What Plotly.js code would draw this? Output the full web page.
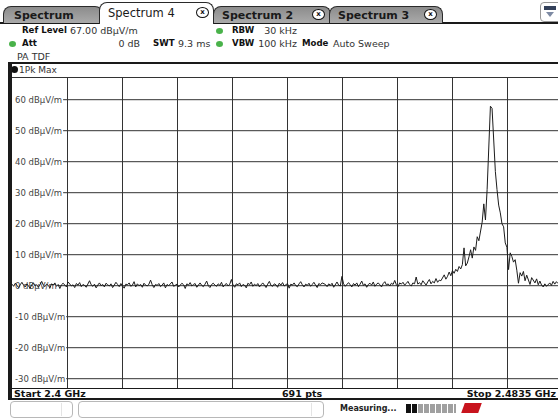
<!DOCTYPE html>
<html><head><meta charset="utf-8">
<script src="https://cdn.plot.ly/plotly-3.0.1.min.js"></script>
<style>
html,body{margin:0;padding:0;background:#fff;overflow:hidden;}
#wrap{position:relative;width:558px;height:419px;overflow:hidden;font-family:'DejaVu Sans',sans-serif;color:#222;background:#fff;}
.a{position:absolute;white-space:nowrap;}
.tab{position:absolute;top:6px;height:17px;border:1.5px solid #2a2a2a;border-bottom:none;border-radius:8px 8px 0 0;background:linear-gradient(#8c8c8c,#aaaaaa);font-weight:bold;font-size:11px;line-height:17px;color:#1a1a1a;box-sizing:border-box;}
.tab.act{top:2px;height:22px;background:#fff;font-weight:normal;font-size:11.5px;line-height:20px;z-index:3;}
.xi{position:absolute;width:11px;height:9px;border:1.3px solid #111;border-radius:50%;background:#fff;font-size:7px;font-weight:bold;line-height:9px;text-align:center;color:#111;}
.t{font-size:9.5px;line-height:11px;color:#333;}
.b{font-weight:bold;color:#111;font-size:8.6px;}
.bb{font-weight:bold;color:#111;font-size:9.5px;}
.gd{position:absolute;width:7px;height:6px;border-radius:50%;background:#49b24a;}
.ln{position:absolute;background:#1a1a1a;}
#plot{position:absolute;left:12px;top:78px;width:546px;height:310px;}
.sb{position:absolute;top:401px;height:17px;border:1px solid #b8b8b8;border-radius:4px;box-sizing:border-box;background:#fff;}
</style>
</head><body>
<div id="wrap">
  <!-- tab bar -->
  <div class="ln" style="left:0;top:22px;width:558px;height:1.5px;"></div>
  <div class="tab" style="left:3px;width:100px;"><span style="position:absolute;left:10px;">Spectrum</span></div>
  <div class="tab act" style="left:99px;width:115px;"><span style="position:absolute;left:8px;">Spectrum 4</span><span class="xi" style="left:96px;top:4px;">x</span></div>
  <div class="tab" style="left:213px;width:118px;"><span style="position:absolute;left:8px;">Spectrum 2</span><span class="xi" style="left:98px;top:2px;">x</span></div>
  <div class="tab" style="left:329px;width:114px;"><span style="position:absolute;left:8px;">Spectrum 3</span><span class="xi" style="left:94px;top:2px;">x</span></div>
  <div class="a" style="left:540px;top:2px;width:20px;height:18px;border:1px solid #999;border-radius:4px;background:#fff;">
    <div class="a" style="left:3px;top:3px;width:12px;height:4px;background:#33405a;"></div>
    <div class="a" style="left:5px;top:9px;width:0;height:0;border-left:4px solid transparent;border-right:4px solid transparent;border-top:5px solid #7d8aa3;"></div>
  </div>

  <!-- info rows -->
  <span class="a t b" style="left:22px;top:25px;">Ref Level</span>
  <span class="a t" style="left:70px;top:25px;">67.00 dBμV/m</span>
  <span class="gd" style="left:216px;top:28px;"></span>
  <span class="a t b" style="left:232px;top:25px;">RBW</span>
  <span class="a t" style="right:261px;top:25px;">30 kHz</span>

  <span class="gd" style="left:9px;top:41px;"></span>
  <span class="a t b" style="left:22px;top:38px;">Att</span>
  <span class="a t" style="right:418px;top:38px;">0 dB</span>
  <span class="a t b" style="left:153px;top:38px;">SWT</span>
  <span class="a t" style="left:178px;top:38px;">9.3 ms</span>
  <span class="gd" style="left:216px;top:41px;"></span>
  <span class="a t b" style="left:232px;top:38px;">VBW</span>
  <span class="a t" style="right:261px;top:38px;">100 kHz</span>
  <span class="a t b" style="left:302px;top:38px;">Mode</span>
  <span class="a t" style="left:333px;top:38px;">Auto Sweep</span>

  <span class="a t" style="left:17px;top:51px;">PA TDF</span>

  <!-- frame -->
  <div class="ln" style="left:8px;top:62px;width:550px;height:2px;"></div>
  <div class="a" style="left:11px;top:66px;width:7px;height:7px;border-radius:50%;background:#111;"></div>
  <span class="a" style="left:19px;top:64px;font-size:9px;line-height:12px;color:#333;">1Pk Max</span>
  <div class="ln" style="left:8px;top:77px;width:550px;height:1px;background:#333;"></div>

  <div id="plot"></div>

  <div class="ln" style="left:8px;top:62px;width:4px;height:337px;z-index:5;"></div>
  <div class="ln" style="left:8px;top:388px;width:550px;height:1px;"></div>
  <span class="a bb" style="left:14px;top:388px;line-height:11px;">Start 2.4 GHz</span>
  <span class="a bb" style="left:282px;top:388px;line-height:11px;">691 pts</span>
  <span class="a bb" style="right:2px;top:388px;line-height:11px;">Stop 2.4835 GHz</span>
  <div class="ln" style="left:8px;top:398px;width:550px;height:2px;"></div>

  <!-- status bar -->
  <div class="sb" style="left:10px;width:63px;"><div class="a" style="left:50px;top:1px;width:1px;height:13px;background:#e4e4e4;"></div></div>
  <div class="sb" style="left:78px;width:246px;"><div class="a" style="left:232px;top:1px;width:1px;height:13px;background:#e4e4e4;"></div></div>
  <span class="a" style="left:340px;top:404px;font-size:8px;font-weight:bold;color:#222;">Measuring...</span>
  <div class="a" style="left:406px;top:404px;width:50px;height:9px;background:repeating-linear-gradient(90deg,transparent 0,transparent 5px,#fff 5px,#fff 6px),linear-gradient(90deg,#111 0,#111 11px,#a0a0a0 11px);"></div>
  <div class="a" style="left:463px;top:403px;width:17px;height:10px;background:#c8141e;transform:skewX(-20deg);"></div>
</div>
<script>
// Sweep definition
const freqStartGHz = 2.4;
const freqStopGHz = 2.4835;
// Trace 1 (Pk Max) levels in dBµV/m, equally spaced across the sweep
const levelsDb = [
 0.5,-0.2,0.8,0.1,-0.6,0.3,1.1,0.2,-0.4,0.6,0.0,-0.8,0.4,0.9,-0.1,0.3,-0.5,0.7,1.4,0.2,
 -0.3,0.5,0.1,-0.7,0.6,0.2,0.9,-0.2,0.4,-0.9,0.3,0.8,0.0,-0.4,1.2,0.5,-0.1,0.3,-0.6,0.7,
 0.2,1.0,-0.3,0.4,0.1,-0.5,0.6,1.6,0.3,-0.2,0.5,-0.7,0.2,0.9,0.0,0.4,-0.4,0.8,0.3,-0.1,
 0.6,-0.6,0.2,1.1,0.4,-0.3,0.7,0.1,-0.8,0.5,0.3,0.9,-0.2,0.2,1.3,-0.4,0.6,0.0,0.4,-0.5,
 0.8,0.2,-0.1,0.5,1.8,0.3,-0.6,0.4,0.1,0.7,-0.3,0.2,0.9,-0.7,0.4,0.0,0.6,1.2,-0.2,0.3,
 0.5,-0.4,0.1,0.8,0.3,-0.9,0.6,0.2,1.0,-0.1,0.4,0.7,-0.5,0.2,0.9,0.1,-0.3,0.5,1.5,0.0,
 -0.6,0.4,0.8,0.2,-0.2,0.6,0.1,1.1,-0.4,0.3,0.7,-0.1,0.5,2.0,0.2,-0.5,0.6,0.3,0.9,-0.3,
 0.4,0.1,-0.7,0.8,0.3,1.2,-0.2,0.5,0.0,0.7,-0.4,0.3,0.9,0.2,-0.6,0.5,1.4,0.1,-0.2,0.6,
 0.3,-0.5,0.8,0.2,1.0,-0.1,0.4,0.7,-0.8,0.5,0.2,0.9,0.0,-0.3,0.6,1.3,0.3,-0.4,0.5,0.1,
 0.8,-0.2,0.4,1.1,0.2,-0.6,0.7,0.3,0.9,0.7,0.4,-0.3,0.6,0.1,0.8,-0.5,0.5,1.2,0.2,-0.1,
 3.0,0.6,-0.2,0.4,1.0,0.3,-0.4,0.7,0.2,0.9,-0.3,0.5,1.5,0.1,0.6,-0.5,0.4,0.8,0.2,1.2,
 -0.2,0.5,0.9,0.3,-0.4,0.7,1.3,0.2,0.6,-0.1,0.8,0.4,1.7,0.3,-0.3,0.9,0.5,1.1,0.2,0.7,
 1.4,0.4,-0.1,0.9,0.6,2.8,0.5,1.0,0.3,1.6,0.7,0.2,1.2,2.0,0.6,1.4,0.9,2.3,1.1,1.8,
 1.6,2.4,3.5,2.1,3.0,4.4,3.2,4.9,4.0,5.3,
 4.6,6.2,5.4,6.8,12.2,6.4,7.3,9.3,11.6,8.9,
 12.5,11.4,15.8,14.5,17.0,20.5,26.4,21.2,31.0,47.0,
 57.9,57.2,46.0,36.8,31.0,26.0,23.5,20.0,19.0,13.8,
 12.4,5.2,10.6,9.4,7.6,8.4,5.0,0.8,4.2,3.1,
 4.6,1.6,3.4,2.0,0.4,2.6,1.8,0.9,2.2,0.3,
 1.5,0.2,-0.4,0.6,-0.2,0.3,0.9,0.1,1.4,0.5,
 1.3,0.7,0.2,0.9,0.4
];
// Y axis divisions (10 dB/div, ref level 67 dBµV/m)
const yTicksDb = [60,50,40,30,20,10,0,-10,-20,-30];
const yTickText = yTicksDb.map(v => v + ' dBμV/m');
const yRangeDb = [-33, 67];
// X axis divisions (10 divisions of 8.35 MHz)
const xDivGHz = [2.40835,2.4167,2.42505,2.4334,2.44175,2.4501,2.45845,2.4668,2.47515];

const span = freqStopGHz - freqStartGHz;
const freqs = levelsDb.map((_, i) => freqStartGHz + i * span / (levelsDb.length - 1));

// the grid is 551 px wide, only 546 px are on screen
const plotW = 546, fullW = 551;
const xMaxVisible = freqStartGHz + span * plotW / fullW;

const labelFont = 8.5;
const cv = document.createElement('canvas').getContext('2d');
cv.font = labelFont + "px 'DejaVu Sans'";
const labelLeft = 3;
const shapes = yTicksDb.map((v, k) => ({
  type: 'line', xref: 'paper', yref: 'y', layer: 'below',
  x0: (labelLeft + cv.measureText(yTickText[k]).width + 1) / plotW, x1: 1,
  y0: v, y1: v, line: {color: '#333', width: 1}
}));

Plotly.newPlot('plot', [{
  x: freqs, y: levelsDb, type: 'scatter', mode: 'lines',
  line: {color: '#1c1c1c', width: 1}, hoverinfo: 'skip'
}], {
  width: plotW, height: 310, margin: {l: 0, r: 0, t: 0, b: 0},
  paper_bgcolor: '#fff', plot_bgcolor: '#fff', showlegend: false,
  xaxis: {range: [freqStartGHz, xMaxVisible], tickmode: 'array', tickvals: xDivGHz,
    showticklabels: false, ticks: '', showgrid: true, gridcolor: '#333', gridwidth: 1,
    zeroline: false, showline: false, fixedrange: true},
  yaxis: {range: yRangeDb, tickmode: 'array', tickvals: yTicksDb, ticktext: yTickText,
    ticklabelposition: 'inside', ticks: '', showgrid: false, zeroline: false, showline: false,
    layer: 'below traces', tickfont: {family: 'DejaVu Sans', size: labelFont, color: '#444'},
    fixedrange: true},
  shapes: shapes
}, {staticPlot: true, displayModeBar: false});
</script>
</body></html>
